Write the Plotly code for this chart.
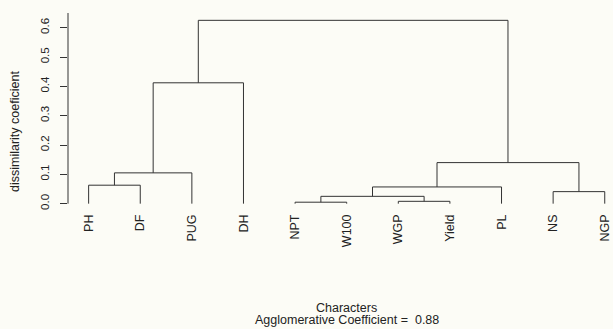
import plotly.graph_objects as go

# ---- data -------------------------------------------------------------
labels = ["PH", "DF", "PUG", "DH", "NPT", "W100", "WGP", "Yield", "PL", "NS", "NGP"]
# R-style merge table: negative = leaf (1-based), positive = earlier merge step
merge_left = [-1, -5, -7, 2, -10, 4, 1, 6, 7, 9]
merge_right = [-2, -6, -8, 3, -11, -9, -3, 5, -4, 8]
merge_height = [0.063, 0.005, 0.008, 0.025, 0.041, 0.057, 0.105, 0.140, 0.412, 0.625]
y_ticks = [0.0, 0.1, 0.2, 0.3, 0.4, 0.5, 0.6]
y_tick_labels = ["0.0", "0.1", "0.2", "0.3", "0.4", "0.5", "0.6"]
agglomerative_coefficient = 0.88

# ---- build dendrogram segments ----------------------------------------
leaf_x = {i + 1: float(i + 1) for i in range(len(labels))}
node_x, node_h = {}, {}


def pos(ref):
    if ref < 0:
        return leaf_x[-ref], 0.0
    return node_x[ref], node_h[ref]


xs, ys = [], []
for k, (a, b, h) in enumerate(zip(merge_left, merge_right, merge_height), start=1):
    xa, ha = pos(a)
    xb, hb = pos(b)
    xs += [xa, xa, xb, xb, None]
    ys += [ha, h, h, hb, None]
    node_x[k] = (xa + xb) / 2
    node_h[k] = h

FONT = "Liberation Sans, Arial, Helvetica, sans-serif"
INK = "#222222"
BG = "#fcfcf6"

fig = go.Figure()
fig.add_trace(go.Scatter(x=xs, y=ys, mode="lines",
                         line=dict(color="#333333", width=1),
                         hoverinfo="skip", showlegend=False))

W, H = 613, 329
ml, mr, mt, mb = 68, 0, 13, 118
fig.update_layout(
    template="none",
    width=W, height=H,
    margin=dict(l=ml, r=mr, t=mt, b=mb, pad=0, autoexpand=False),
    paper_bgcolor=BG, plot_bgcolor=BG,
    font=dict(family=FONT, color=INK, size=12),
    xaxis=dict(range=[0.6, 11.16], tickmode="array", automargin=False,
               tickvals=list(range(1, len(labels) + 1)), ticktext=labels,
               tickangle=-90, ticks="", showgrid=False, zeroline=False,
               showline=False, tickfont=dict(size=12.5, color=INK, family=FONT)),
    yaxis=dict(range=[-0.025, 0.65], tickmode="array", tickvals=y_ticks,
               automargin=False,
               ticktext=y_tick_labels, tickangle=-90, ticks="outside",
               ticklen=7, tickwidth=1, tickcolor="#333333",
               showgrid=False, zeroline=False, showline=False,
               ticklabelstandoff=6,
               tickfont=dict(size=11.5, color=INK, family=FONT)),
)

# y axis line from 0 to top (R style)
fig.add_shape(type="line", xref="paper", yref="y", x0=0, x1=0, y0=0, y1=0.65,
              line=dict(color="#333333", width=1))

plot_h = H - mt - mb
plot_w = W - ml - mr


def py(pix):
    return (H - mb - pix) / plot_h


def px(pix):
    return (pix - ml) / plot_w


fig.add_annotation(text="dissimilarity coeficient", xref="paper", yref="paper",
                   x=px(15), y=py(132), textangle=-90, showarrow=False,
                   xanchor="center", yanchor="middle",
                   font=dict(size=12.5, color=INK, family=FONT))
fig.add_annotation(text="Characters", xref="paper", yref="paper",
                   x=px(346.5), y=py(307.5), showarrow=False,
                   xanchor="center", yanchor="middle",
                   font=dict(size=12.5, color=INK, family=FONT))
fig.add_annotation(text=f"Agglomerative Coefficient =  {agglomerative_coefficient:.2f}",
                   xref="paper", yref="paper",
                   x=px(346.5), y=py(319.5), showarrow=False,
                   xanchor="center", yanchor="middle",
                   font=dict(size=12.5, color=INK, family=FONT))

fig.write_html(
    "out.html",
    config={"displayModeBar": False},
    post_script="document.body.style.margin='0';document.body.style.background='%s';" % BG,
)
